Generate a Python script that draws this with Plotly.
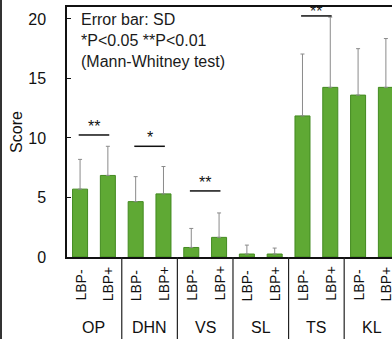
import plotly.graph_objects as go

categories = ["OP", "DHN", "VS", "SL", "TS", "KL"]
groups = ["LBP-", "LBP+"]
lbp_minus_mean = [5.7, 4.65, 0.8, 0.25, 11.85, 13.6]
lbp_minus_sd = [2.5, 2.1, 1.6, 0.75, 5.2, 3.9]
lbp_plus_mean = [6.85, 5.3, 1.65, 0.25, 14.25, 14.25]
lbp_plus_sd = [2.45, 2.3, 2.05, 0.5, 5.9, 4.1]
sig_categories = ["OP", "DHN", "VS", "TS"]
sig_labels = ["**", "*", "**", "**"]
sig_heights = [10.25, 9.3, 5.55, 20.25]
y_ticks = [0, 5, 10, 15, 20]

FONT = "Liberation Sans, Arial, sans-serif"
BAR = "#5fa934"
BAR_EDGE = "#438a20"

x_minus = [2 * i for i in range(len(categories))]
x_plus = [2 * i + 1 for i in range(len(categories))]

fig = go.Figure()
for xs, ys, sd, name in [(x_minus, lbp_minus_mean, lbp_minus_sd, groups[0]),
                         (x_plus, lbp_plus_mean, lbp_plus_sd, groups[1])]:
    fig.add_trace(go.Bar(
        x=xs, y=ys, name=name, width=0.54,
        marker=dict(color=BAR, line=dict(color=BAR_EDGE, width=1)),
        error_y=dict(type="data", symmetric=False, array=sd,
                     arrayminus=[0] * len(sd), color="#8a8a8a",
                     thickness=1, width=2),
        showlegend=False, hoverinfo="skip",
    ))

L, T, B = 67, 7, 82
H = 339 - T - B
W = 392 - L

shapes = []
annotations = []
# group separators below axis
for i in range(1, len(categories)):
    xv = 2 * i - 0.5
    shapes.append(dict(type="line", xref="x", yref="paper", x0=xv, x1=xv,
                       y0=0, y1=-B / H, line=dict(color="#222", width=1.2)))
# left edge line (neighbouring panel border)
shapes.append(dict(type="line", xref="paper", yref="paper",
                   x0=(1 - L) / W, x1=(1 - L) / W, y0=-B / H, y1=(H + T) / H,
                   line=dict(color="#333", width=2)))

# tick labels (rotated) and group labels
for i, c in enumerate(categories):
    for j, g in enumerate(groups):
        annotations.append(dict(x=2 * i + j, xref="x", y=-46 / H, yref="paper",
                                text=g, textangle=-90, showarrow=False,
                                xanchor="center", yanchor="bottom",
                                font=dict(family=FONT, size=14, color="#111")))
    annotations.append(dict(x=2 * i + 0.5, xref="x", y=-70 / H, yref="paper",
                            text=c, showarrow=False, xanchor="center",
                            yanchor="middle",
                            font=dict(family=FONT, size=16, color="#111")))

# significance brackets
star_shift = {"TS": -6}
for c, lab, h in zip(sig_categories, sig_labels, sig_heights):
    i = categories.index(c)
    shapes.append(dict(type="line", xref="x", yref="y", x0=2 * i - 0.05,
                       x1=2 * i + 1.05, y0=h, y1=h,
                       line=dict(color="#111", width=1.5)))
    annotations.append(dict(x=2 * i + 0.5, xref="x", y=h, yref="y", text=lab,
                            showarrow=False, xanchor="center", yanchor="bottom",
                            yshift=star_shift.get(c, -2),
                            font=dict(family=FONT, size=16, color="#111")))

annotations.append(dict(x=(79 - L) / W, xref="paper", y=1 - 2 / H, yref="paper",
                        text="Error bar: SD<br>*P<0.05 **P<0.01<br>(Mann-Whitney test)",
                        showarrow=False, xanchor="left", yanchor="top", align="left",
                        font=dict(family=FONT, size=16, color="#1a1a1a")))

fig.update_layout(
    width=392, height=339,
    margin=dict(l=L, r=0, t=T, b=B, autoexpand=False),
    plot_bgcolor="white", paper_bgcolor="white",
    barmode="overlay", hovermode=False,
    shapes=shapes, annotations=annotations,
    xaxis=dict(range=[-0.47, 11.22], showticklabels=False, ticks="",
               showgrid=False, zeroline=False, showline=True, mirror=True,
               linecolor="#111", linewidth=1.5, automargin=False),
    yaxis=dict(range=[0, 21], tickvals=y_ticks, ticks="inside", ticklen=4,
               tickcolor="#111", showgrid=False, zeroline=False,
               showline=True, linecolor="#111", linewidth=1.5,
               ticklabelstandoff=16, automargin=False,
               tickfont=dict(family=FONT, size=16, color="#111"),
               title=dict(text="Score", standoff=2,
                          font=dict(family=FONT, size=16, color="#111"))),
)

fig.write_html("out.html", config={"displayModeBar": False},
               post_script="document.body.style.margin='0';document.body.style.overflow='hidden';")
